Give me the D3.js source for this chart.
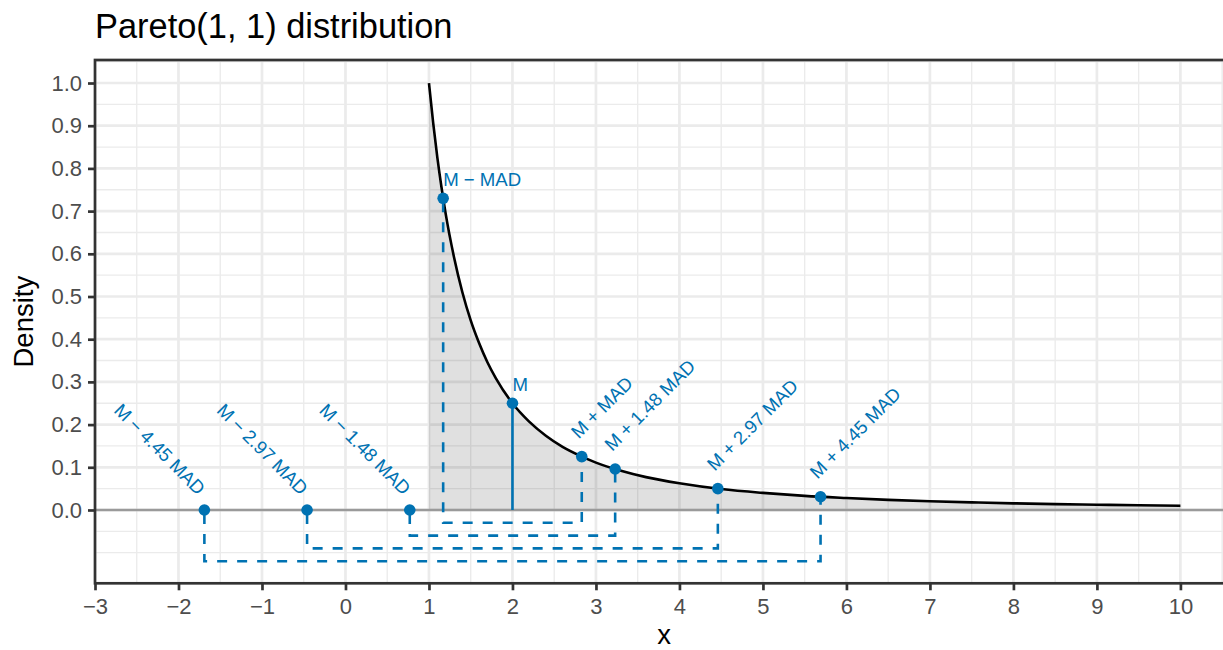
<!DOCTYPE html>
<html>
<head>
<meta charset="utf-8">
<script src="https://cdn.jsdelivr.net/npm/d3@7"></script>
<style>
  html, body { margin: 0; padding: 0; background: #fff; }
  svg text { font-family: "Liberation Sans", Arial, Helvetica, sans-serif; }
</style>
</head>
<body>
<svg id="chart" width="1223" height="650"></svg>
<script>
// ---- data ----
const chartTitle = "Pareto(1, 1) distribution";
const curveX = [1, 1.05, 1.1, 1.15, 1.2, 1.3, 1.4, 1.5, 1.6, 1.7, 1.8, 2, 2.2, 2.4, 2.6, 2.8, 3, 3.3, 3.6, 4, 4.5, 5, 5.5, 6, 6.5, 7, 7.5, 8, 8.5, 9, 9.5, 10];
const curveY = [1.0, 0.907, 0.826, 0.756, 0.694, 0.592, 0.510, 0.444, 0.391, 0.346, 0.309, 0.250, 0.207, 0.174, 0.148, 0.128, 0.111, 0.092, 0.077, 0.0625, 0.049, 0.040, 0.033, 0.028, 0.0237, 0.0204, 0.0178, 0.0156, 0.0138, 0.0123, 0.0111, 0.010];

const pointLabels = ["M \u2212 4.45 MAD", "M \u2212 2.97 MAD", "M \u2212 1.48 MAD", "M \u2212 MAD", "M", "M + MAD", "M + 1.48 MAD", "M + 2.97 MAD", "M + 4.45 MAD"];
const pointX = [-1.69, -0.46, 0.77, 1.17, 2, 2.83, 3.23, 4.46, 5.69];
const pointY = [0, 0, 0, 0.73, 0.25, 0.125, 0.096, 0.050, 0.031];
const labelKind = ["down", "down", "down", "flat", "flat", "up", "up", "up", "up"];

const bracketLow = [3, 2, 1, 0];     // index into points
const bracketHigh = [5, 6, 7, 8];
const bracketLevel = [-0.03, -0.06, -0.09, -0.12];

const xTicks = [-3, -2, -1, 0, 1, 2, 3, 4, 5, 6, 7, 8, 9, 10];
const yTicks = [0, 0.1, 0.2, 0.3, 0.4, 0.5, 0.6, 0.7, 0.8, 0.9, 1.0];
const xMinor = [-2.5, -1.5, -0.5, 0.5, 1.5, 2.5, 3.5, 4.5, 5.5, 6.5, 7.5, 8.5, 9.5, 10.5];
const yMinor = [-0.1, -0.05, 0.05, 0.15, 0.25, 0.35, 0.45, 0.55, 0.65, 0.75, 0.85, 0.95, 1.05];

// ---- layout ----
const P = { left: 95, right: 1233, top: 60, bottom: 583.3 };
const blue = "#0072B2";
const minus = s => String(s).replace("-", "\u2212");

const svg = d3.select("#chart");
const x = d3.scaleLinear().domain([-3, 10.63]).range([P.left, P.right]);
const y = d3.scaleLinear().domain([-0.1717, 1.0539]).range([P.bottom, P.top]);

svg.append("defs").append("clipPath").attr("id", "panel")
  .append("rect").attr("x", P.left).attr("y", P.top)
  .attr("width", P.right - P.left).attr("height", P.bottom - P.top);

const panel = svg.append("g").attr("clip-path", "url(#panel)");

// grid
panel.selectAll("line.xminor").data(xMinor).join("line")
  .attr("x1", d => x(d)).attr("x2", d => x(d)).attr("y1", P.top).attr("y2", P.bottom)
  .attr("stroke", "#ebebeb").attr("stroke-width", 1.35);
panel.selectAll("line.yminor").data(yMinor).join("line")
  .attr("y1", d => y(d)).attr("y2", d => y(d)).attr("x1", P.left).attr("x2", P.right)
  .attr("stroke", "#ebebeb").attr("stroke-width", 1.35);
panel.selectAll("line.xmajor").data(xTicks).join("line")
  .attr("x1", d => x(d)).attr("x2", d => x(d)).attr("y1", P.top).attr("y2", P.bottom)
  .attr("stroke", "#ebebeb").attr("stroke-width", 2.7);
panel.selectAll("line.ymajor").data(yTicks).join("line")
  .attr("y1", d => y(d)).attr("y2", d => y(d)).attr("x1", P.left).attr("x2", P.right)
  .attr("stroke", "#ebebeb").attr("stroke-width", 2.7);

const curveData = curveX.map((d, i) => [d, curveY[i]]);

// area under curve
panel.append("path").datum(curveData)
  .attr("d", d3.area().x(d => x(d[0])).y0(y(0)).y1(d => y(d[1])).curve(d3.curveMonotoneX))
  .attr("fill", "#000").attr("fill-opacity", 0.12);

// zero line
panel.append("line").attr("x1", P.left).attr("x2", P.right).attr("y1", y(0)).attr("y2", y(0))
  .attr("stroke", "#9a9a9a").attr("stroke-width", 2.6);

// curve
panel.append("path").datum(curveData)
  .attr("d", d3.line().x(d => x(d[0])).y(d => y(d[1])).curve(d3.curveMonotoneX))
  .attr("fill", "none").attr("stroke", "#000").attr("stroke-width", 2.6);

// median segment
panel.append("line").attr("x1", x(pointX[4])).attr("x2", x(pointX[4]))
  .attr("y1", y(0)).attr("y2", y(pointY[4]))
  .attr("stroke", blue).attr("stroke-width", 2.6);

// brackets
panel.selectAll("path.bracket").data(bracketLevel).join("path")
  .attr("d", (lv, i) => {
    const a = bracketLow[i], b = bracketHigh[i];
    return d3.line()([[x(pointX[a]), y(pointY[a])], [x(pointX[a]), y(lv)], [x(pointX[b]), y(lv)], [x(pointX[b]), y(pointY[b])]]);
  })
  .attr("fill", "none").attr("stroke", blue).attr("stroke-width", 2.6)
  .attr("stroke-dasharray", "10,10").attr("stroke-dashoffset", -4);

// points
panel.selectAll("circle.pt").data(pointX).join("circle")
  .attr("cx", d => x(d)).attr("cy", (d, i) => y(pointY[i])).attr("r", 5.8).attr("fill", blue);

// labels
panel.selectAll("text.lab").data(pointLabels).join("text")
  .attr("fill", blue).attr("font-size", 18.6)
  .attr("text-anchor", (d, i) => labelKind[i] === "down" ? "end" : "start")
  .attr("transform", (d, i) => {
    const px = x(pointX[i]), py = y(pointY[i]);
    if (labelKind[i] === "flat") return `translate(${px},${py - 12})`;
    if (labelKind[i] === "up") return `translate(${px - 3},${py - 17}) rotate(-45)`;
    return `translate(${px - 7},${py - 14}) rotate(45)`;
  })
  .text(d => d);

// panel border
svg.append("rect").attr("x", P.left).attr("y", P.top)
  .attr("width", P.right - P.left).attr("height", P.bottom - P.top)
  .attr("fill", "none").attr("stroke", "#333333").attr("stroke-width", 2.7);

// axes
const xAxis = svg.append("g").attr("transform", `translate(0,${P.bottom})`)
  .call(d3.axisBottom(x).tickValues(xTicks).tickSize(7).tickPadding(8).tickFormat(minus));
const yAxis = svg.append("g").attr("transform", `translate(${P.left},0)`)
  .call(d3.axisLeft(y).tickValues(yTicks).tickSize(7).tickPadding(6).tickFormat(d3.format(".1f")));
[xAxis, yAxis].forEach(g => {
  g.select(".domain").remove();
  g.selectAll(".tick line").attr("stroke", "#333333").attr("stroke-width", 2.7);
  g.selectAll(".tick text").attr("fill", "#4d4d4d").attr("font-size", 22)
    .attr("font-family", "'Liberation Sans', Arial, sans-serif");
});

// titles
svg.append("text").attr("x", P.left).attr("y", 38).attr("font-size", 34.4).attr("fill", "#000").text(chartTitle);
svg.append("text").attr("x", (P.left + P.right) / 2).attr("y", 644).attr("text-anchor", "middle")
  .attr("font-size", 27.5).attr("fill", "#000").text("x");
svg.append("text").attr("transform", `translate(33,${(P.top + P.bottom) / 2}) rotate(-90)`)
  .attr("text-anchor", "middle").attr("font-size", 27.5).attr("fill", "#000").text("Density");
</script>
</body>
</html>
